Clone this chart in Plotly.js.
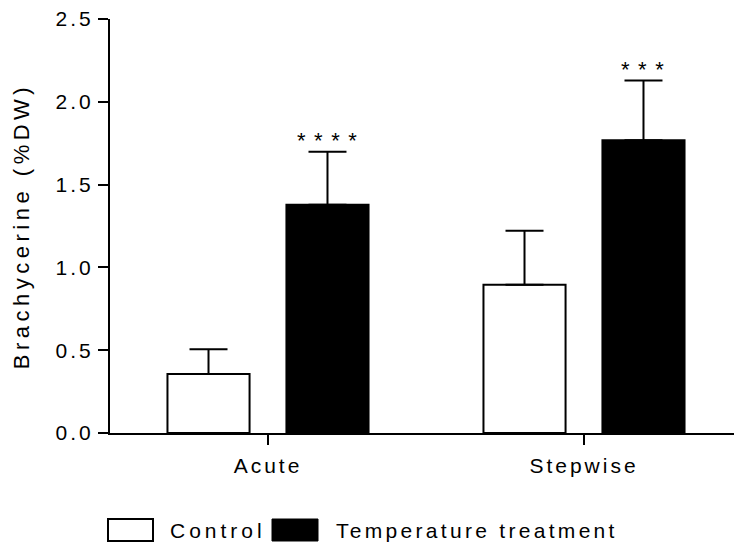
<!DOCTYPE html>
<html>
<head>
<meta charset="utf-8">
<script src="https://cdn.plot.ly/plotly-3.0.1.min.js"></script>
<style>
  html, body { margin: 0; padding: 0; background: #fff; }
  #chart { width: 734px; height: 547px; }
  svg text { letter-spacing: 3px; }
</style>
</head>
<body>
<div id="chart"></div>
<script>
const categories = ["Acute", "Stepwise"];
const controlValues = [0.356, 0.895];
const controlErrors = [0.15, 0.326];
const treatmentValues = [1.378, 1.768];
const treatmentErrors = [0.32, 0.36];
const significance = ["* * * *", "* * *"];
const seriesNames = ["Control", "Temperature treatment"];
const yTicks = [0, 0.5, 1.0, 1.5, 2.0, 2.5];
const yTitle = "Brachycerine (%DW)";

const FONT = "Liberation Sans, Arial, sans-serif";
const FS = 21;
const W = 734, H = 547;
const L = 110, R = 0, T = 19, B = 114;
const pw = W - L - R, ph = H - T - B;
const px = x => (x - L) / pw;
const py = y => (T + ph - y) / ph;
const spaced = (s, ls) => '<span style="letter-spacing:' + ls + 'px">' + s + '</span>';

const bargap = 0.247, bargroupgap = 0.31;
const slot = (1 - bargap) / 2;

const traces = [
  {
    type: "bar", name: seriesNames[0], x: categories, y: controlValues,
    marker: { color: "#ffffff", line: { color: "#000000", width: 2 } },
    error_y: { type: "data", array: controlErrors, arrayminus: controlErrors.map(() => 0), symmetric: false,
               color: "#000000", thickness: 2, width: 19 },
    showlegend: false, hoverinfo: "skip"
  },
  {
    type: "bar", name: seriesNames[1], x: categories, y: treatmentValues,
    marker: { color: "#000000", line: { color: "#000000", width: 2 } },
    error_y: { type: "data", array: treatmentErrors, arrayminus: treatmentErrors.map(() => 0), symmetric: false,
               color: "#000000", thickness: 2, width: 19 },
    showlegend: false, hoverinfo: "skip"
  }
];

const annotations = categories.map((c, i) => ({
  xref: "x", yref: "y", x: i + slot / 2, y: treatmentValues[i] + treatmentErrors[i],
  text: spaced(significance[i], 1.2), showarrow: false, yanchor: "bottom", yshift: -3, xshift: 0,
  font: { family: FONT, size: 22, color: "#000" }
}));

// legend (custom, to match wide swatches)
const shapes = [
  { type: "rect", xref: "paper", yref: "paper", x0: px(108), x1: px(153), y0: py(541), y1: py(519),
    fillcolor: "#ffffff", line: { color: "#000", width: 2 } },
  { type: "rect", xref: "paper", yref: "paper", x0: px(272), x1: px(318), y0: py(541), y1: py(519),
    fillcolor: "#000000", line: { color: "#000", width: 1 } }
];
annotations.push(
  { xref: "paper", yref: "paper", x: px(168), y: py(530), xanchor: "left", yanchor: "middle",
    text: spaced(seriesNames[0], 4.0), showarrow: false, font: { family: FONT, size: FS, color: "#000" } },
  { xref: "paper", yref: "paper", x: px(334), y: py(530), xanchor: "left", yanchor: "middle",
    text: spaced(seriesNames[1], 3.3), showarrow: false, font: { family: FONT, size: FS, color: "#000" } }
);

const layout = {
  width: W, height: H,
  margin: { l: L, r: R, t: T, b: B, pad: 0 },
  paper_bgcolor: "#fff", plot_bgcolor: "#fff",
  barmode: "group", bargap: bargap, bargroupgap: bargroupgap,
  font: { family: FONT, size: FS, color: "#000" },
  xaxis: {
    type: "category", range: [-0.5, -0.5 + 2 * pw / 632],
    showline: true, linecolor: "#000", linewidth: 2,
    ticks: "outside", ticklen: 10, tickwidth: 2, tickcolor: "#000",
    showgrid: false, zeroline: false, fixedrange: true, ticklabelstandoff: 3,
    tickfont: { family: FONT, size: FS, color: "#000" }
  },
  yaxis: {
    range: [0, 2.5], tickvals: yTicks, tickformat: ".1f",
    showline: true, linecolor: "#000", linewidth: 2,
    ticks: "outside", ticklen: 10, tickwidth: 2, tickcolor: "#000",
    showgrid: false, zeroline: false, fixedrange: true,
    tickfont: { family: FONT, size: FS, color: "#000" },
    title: { text: spaced(yTitle, 4.5), font: { family: FONT, size: 22, color: "#000" }, standoff: 20 }
  },
  annotations: annotations,
  shapes: shapes,
  showlegend: false
};

Plotly.newPlot("chart", traces, layout, { staticPlot: true, displayModeBar: false });
</script>
</body>
</html>
